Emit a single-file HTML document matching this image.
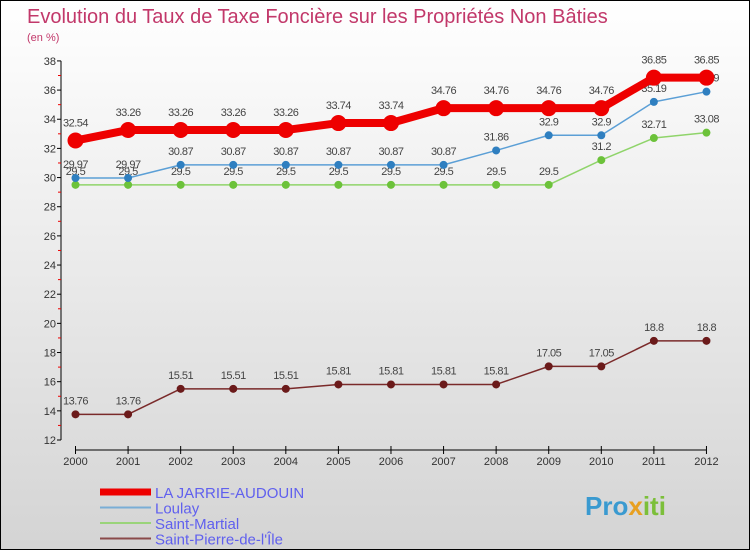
<!DOCTYPE html>
<html><head><meta charset="utf-8"><style>
body{margin:0;}
#c{width:750px;height:550px;position:relative;box-sizing:border-box;border:1px solid #000;background:linear-gradient(#ffffff,#d4d4d4);font-family:"Liberation Sans",sans-serif;overflow:hidden}
</style></head><body>
<div id="c">
<svg id="s" width="750" height="550" style="position:absolute;left:-1px;top:-1px">
<text x="27" y="23" font-size="20" fill="#c2386a">Evolution du Taux de Taxe Foncière sur les Propriétés Non Bâties</text>
<text x="27" y="41" font-size="11" fill="#c2386a">(en %)</text>
<g id="ax"></g><g id="ser"></g><g id="leg"></g>
<text x="585" y="515" font-size="26" font-weight="bold" fill="#3a9ad0">Pro<tspan fill="#e8a020">x</tspan><tspan fill="#7cbf3a">iti</tspan></text>
</svg>
</div>
<script>
const years=["2000","2001","2002","2003","2004","2005","2006","2007","2008","2009","2010","2011","2012"];
const yTicks=[12,14,16,18,20,22,24,26,28,30,32,34,36,38];
const jarrie=[32.54,33.26,33.26,33.26,33.26,33.74,33.74,34.76,34.76,34.76,34.76,36.85,36.85];
const loulay=[29.97,29.97,30.87,30.87,30.87,30.87,30.87,30.87,31.86,32.9,32.9,35.19,35.89];
const martial=[29.5,29.5,29.5,29.5,29.5,29.5,29.5,29.5,29.5,29.5,31.2,32.71,33.08];
const pierre=[13.76,13.76,15.51,15.51,15.51,15.81,15.81,15.81,15.81,17.05,17.05,18.8,18.8];
const names=["LA JARRIE-AUDOUIN","Loulay","Saint-Martial","Saint-Pierre-de-l'Île"];
const NS="http://www.w3.org/2000/svg";
const X=i=>75.5+i*52.58, Y=v=>440-(v-12)*14.58;
function mk(t,a,p){const e=document.createElementNS(NS,t);for(const k in a)e.setAttribute(k,a[k]);p.appendChild(e);return e;}
const ax=document.getElementById('ax');
let e=mk('line',{x1:61,y1:Y(38),x2:61,y2:Y(12),stroke:'#000'},ax);


yTicks.forEach(v=>{
 mk('line',{x1:57,y1:Y(v),x2:61,y2:Y(v),stroke:'#000'},ax);
 if(v<38)mk('line',{x1:58,y1:Y(v+1),x2:61,y2:Y(v+1),stroke:'#e00'},ax);
 const t=mk('text',{x:56,y:Y(v)+4,'font-size':11,'text-anchor':'end',fill:'#333'},ax);t.textContent=v;
 
 
});
e=mk('line',{x1:X(0),y1:450,x2:X(12),y2:450,stroke:'#000'},ax);


years.forEach((y,i)=>{
 mk('line',{x1:X(i),y1:446,x2:X(i),y2:454,stroke:'#000'},ax);
 const t=mk('text',{x:X(i),y:465,'font-size':11,'text-anchor':'middle',fill:'#333'},ax);t.textContent=y;
 
 
});
const ser=document.getElementById('ser');
const specs=[[pierre,'#7a2a2a','#6b1a1a',1.5,4,'series-saint-pierre'],[martial,'#8fd46a','#6cc23a',1.5,4,'series-saint-martial'],[loulay,'#5b9fd6','#2f7fc0',1.5,4,'series-loulay'],[jarrie,'#ee0000','#ee0000',8,8,'series-la-jarrie']];
specs.forEach(([d,lc,pc,w,r,nm])=>{
 const g=mk('g',{},ser);
 
 
 mk('polyline',{points:d.map((v,i)=>X(i)+','+Y(v)).join(' '),fill:'none',stroke:lc,'stroke-width':w,'stroke-linejoin':'round'},g);
 d.forEach((v,i)=>{
  const c=mk('circle',{cx:X(i),cy:Y(v),r:r,fill:pc},g);
  
  
  const t=mk('text',{x:X(i),y:Y(v)-(r+6),'font-size':11,'text-anchor':'middle',fill:'#444','letter-spacing':'-0.5'},g);t.textContent=v;
  
  
 });
});
const leg=document.getElementById('leg');
const lc=['#ee0000','#7aaed6','#9ad47a','#8a4a4a'],lw=[7,2,2,2];
names.forEach((n,i)=>{
 const y=492+i*15.5;
 const g=mk('g',{},leg);
 
 
 mk('line',{x1:100,y1:y,x2:151,y2:y,stroke:lc[i],'stroke-width':lw[i]},g);
 const t=mk('text',{x:155,y:y+6,'font-size':15,fill:'#6060ee'},g);t.textContent=n;
});
</script>
</body></html>
